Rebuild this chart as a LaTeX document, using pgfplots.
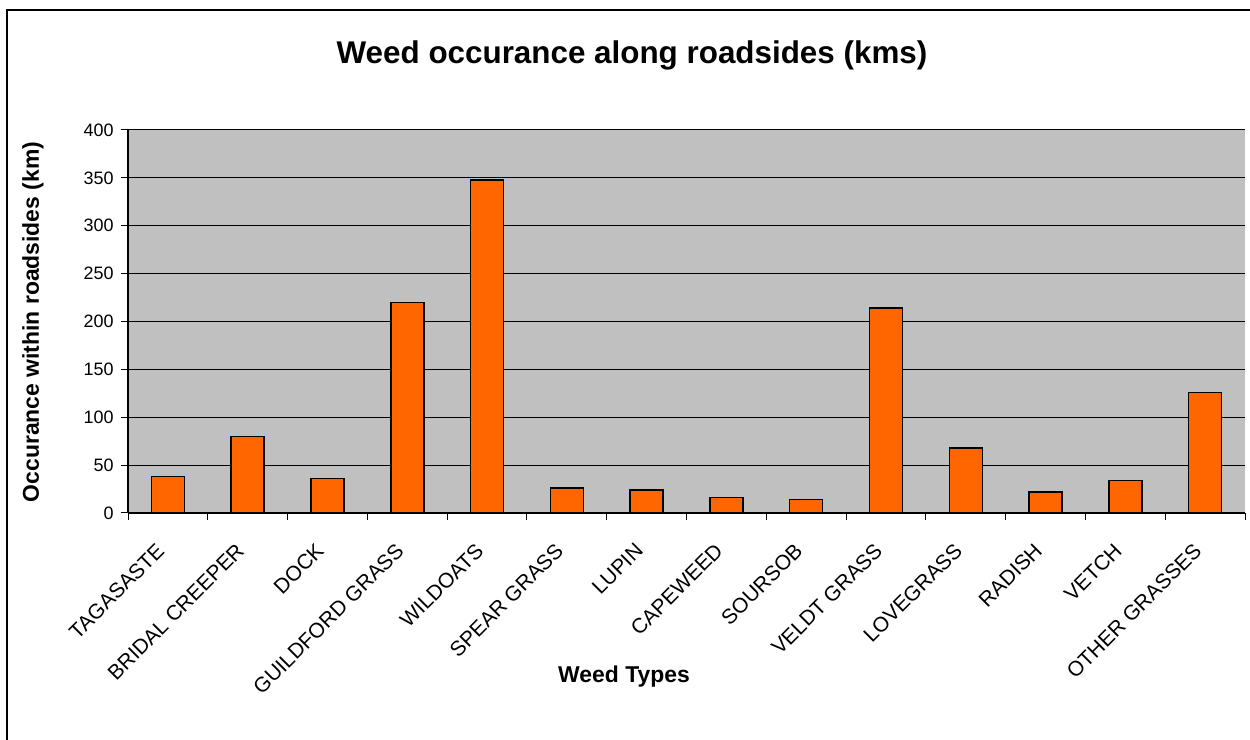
\documentclass[border=0pt]{standalone}
\usepackage{fontspec}
\setmainfont{Liberation Sans}
\usepackage{pgfplots}
\pgfplotsset{compat=1.18}
\definecolor{barorange}{HTML}{FF6600}
\definecolor{plotgray}{HTML}{C0C0C0}
\begin{document}
\begin{tikzpicture}
\useasboundingbox (0bp,0bp) rectangle (1250bp,740bp);
\draw[line width=2bp] (7bp,0bp) -- (7bp,729.5bp) -- (1250bp,729.5bp);
\begin{axis}[
  at={(128bp,227bp)}, anchor=south west,
  width=1117bp, height=383bp, scale only axis,
  xmin=-0.5, xmax=13.5, ymin=0, ymax=400,
  axis background/.style={fill=plotgray},
  axis x line*=bottom, axis y line*=left,
  axis line style={black, line width=1.2bp, -},
  xtick={0,...,13},
  xticklabels={TAGASASTE,BRIDAL CREEPER,DOCK,GUILDFORD GRASS,WILDOATS,SPEAR GRASS,LUPIN,CAPEWEED,SOURSOB,VELDT GRASS,LOVEGRASS,RADISH,VETCH,OTHER GRASSES},
  major x tick style={draw=none},
  minor xtick={-0.5,0.5,...,13.5},
  minor x tick style={black, line width=1bp},
  minor tick length=7bp,
  ytick={0,50,...,400},
  major y tick style={black, line width=1bp},
  major tick length=7bp,
  tick align=outside,
  ymajorgrids, grid style={black, line width=1bp},
  /pgf/number format/assume math mode=true,
  yticklabel style={font=\fontsize{18}{20}\selectfont, xshift=-4bp},
  xticklabel style={font=\fontsize{21}{23}\selectfont, rotate=45, anchor=east, xshift=-21bp, yshift=-14bp},
  clip=false,
]
\addplot[ybar, bar width=33bp, fill=barorange, draw=black, line width=1.5bp]
  coordinates {(0,38) (1,80) (2,36) (3,220) (4,348) (5,26) (6,24)
               (7,16) (8,14) (9,214) (10,68) (11,22) (12,34) (13,126)};
\end{axis}
\node[font=\bfseries\fontsize{31.5}{34}\selectfont] at (632bp,685bp) {Weed occurance along roadsides (kms)};
\node[font=\bfseries\fontsize{23}{26}\selectfont] at (624bp,63bp) {Weed Types};
\node[font=\bfseries\fontsize{23}{26}\selectfont, rotate=90] at (33bp,418bp) {Occurance within roadsides (km)};
\end{tikzpicture}
\end{document}
